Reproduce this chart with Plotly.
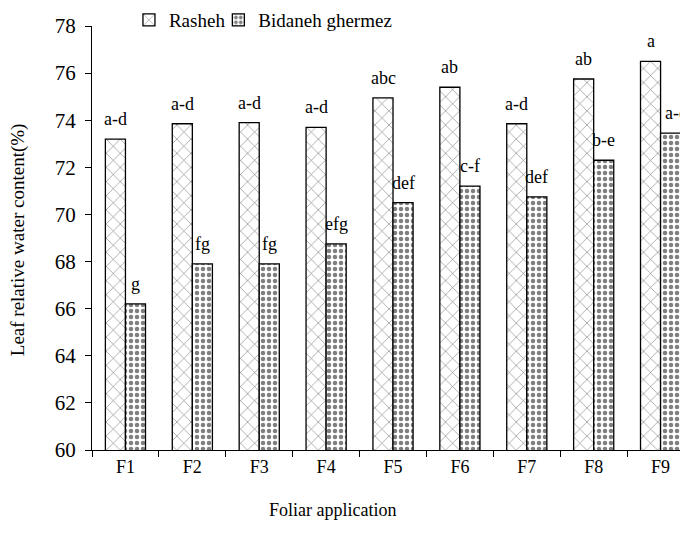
import plotly.graph_objects as go

categories = ["F1", "F2", "F3", "F4", "F5", "F6", "F7", "F8", "F9"]
rasheh = [73.2, 73.85, 73.9, 73.7, 74.95, 75.4, 73.85, 75.75, 76.5]
bidaneh = [66.2, 67.9, 67.9, 68.75, 70.5, 71.2, 70.75, 72.3, 73.45]
rasheh_letters = ["a-d", "a-d", "a-d", "a-d", "abc", "ab", "a-d", "ab", "a"]
bidaneh_letters = ["g", "fg", "fg", "efg", "def", "c-f", "def", "b-e", "a-c"]

FONT = "Liberation Serif, Times New Roman, serif"

fig = go.Figure()
fig.add_trace(go.Bar(
    name="Rasheh", x=categories, y=rasheh, legend="legend",
    marker=dict(color="white", line=dict(color="black", width=1.3),
                pattern=dict(shape="x", fgcolor="black", bgcolor="white",
                             size=10, solidity=0.12)),
))
fig.add_trace(go.Bar(
    name="Bidaneh ghermez", x=categories, y=bidaneh, legend="legend2",
    marker=dict(color="white", line=dict(color="black", width=1.3),
                pattern=dict(shape=".", fgcolor="black", bgcolor="white",
                             size=6, solidity=0.45)),
))

annotations = []
for cat, val, lab in zip(categories, rasheh, rasheh_letters):
    annotations.append(dict(x=cat, y=val, xref="x", yref="y", text=lab,
                            xanchor="center", yanchor="bottom", xshift=-10, yshift=8,
                            showarrow=False, font=dict(family=FONT, size=18, color="black")))
for i, (cat, val, lab) in enumerate(zip(categories, bidaneh, bidaneh_letters)):
    extra = 5 if i == len(categories) - 1 else 0
    annotations.append(dict(x=cat, y=val, xref="x", yref="y", text=lab,
                            xanchor="center", yanchor="bottom", xshift=10 + extra, yshift=8,
                            showarrow=False, font=dict(family=FONT, size=18, color="black")))
annotations += [
    dict(text="Foliar application", xref="paper", yref="paper",
         x=0.403, y=-0.1415, xanchor="center", yanchor="middle",
         showarrow=False, font=dict(family=FONT, size=18)),
    dict(text="Leaf relative water content(%)", xref="paper", yref="paper",
         x=-0.124, y=0.495, xanchor="center", yanchor="middle", textangle=-90,
         showarrow=False, font=dict(family=FONT, size=19)),
]

fig.update_layout(
    width=680, height=538,
    margin=dict(l=84, r=0, t=18, b=96, autoexpand=False),
    paper_bgcolor="white", plot_bgcolor="white",
    barmode="group", bargap=0.4, bargroupgap=0,
    font=dict(family=FONT, color="black"),
    showlegend=True,
    legend=dict(orientation="h", x=0.062, xanchor="left", y=1.014, yanchor="middle",
                font=dict(family=FONT, size=19), bgcolor="rgba(0,0,0,0)"),
    legend2=dict(orientation="h", x=0.212, xanchor="left", y=1.014, yanchor="middle",
                 font=dict(family=FONT, size=19), bgcolor="rgba(0,0,0,0)"),
    xaxis=dict(range=[-0.5, 8.41], showline=True, linecolor="black", linewidth=1,
               ticks="outside", tickson="boundaries", ticklen=6, tickcolor="black",
               tickfont=dict(family=FONT, size=18), showgrid=False, zeroline=False),
    yaxis=dict(range=[60, 78], dtick=2, showline=True, linecolor="black", linewidth=1,
               ticks="outside", ticklen=6, tickcolor="black", ticklabelstandoff=5,
               tickfont=dict(family=FONT, size=21), showgrid=False, zeroline=False),
    annotations=annotations,
)

fig.write_html("out.html")
